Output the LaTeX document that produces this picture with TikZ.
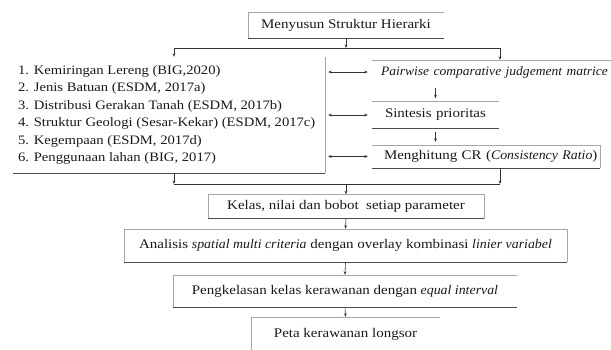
\documentclass[tikz,border=0pt]{standalone}
\usepackage{fontspec}
\setmainfont{Liberation Serif}[FakeStretch=1.135, ItalicFeatures={FakeStretch=1.05}]
\usetikzlibrary{arrows.meta}
\newcommand\myfs{\fontsize{13.2}{17.4}\selectfont}
\newcommand\mylistfs{\fontsize{12.9}{17.4}\selectfont}
\newcommand\mypairfs{\fontsize{12.9}{17.4}\selectfont}
\begin{document}
\begin{tikzpicture}[x=1pt,y=-1pt,
  lbl/.style={inner sep=0pt, font=\myfs, text=black!90},
  lite/.style={draw=black!35, line width=0.6pt},
  dark/.style={draw=black!70, line width=0.8pt},
  ln/.style={draw=black!80, line width=0.9pt},
  arr/.style={draw=black!80, line width=0.6pt, -{Stealth[length=3.5pt,width=2.8pt]}},
  darr/.style={draw=black!80, line width=0.6pt, {Stealth[length=3.5pt,width=2.8pt]}-{Stealth[length=3.5pt,width=2.8pt]}},
]
\useasboundingbox (0,0) rectangle (611,349);

% nodes
\node[lbl, minimum width=196pt, minimum height=26pt] (top) at (346,25) {Menyusun Struktur Hierarki};
\node[lbl, minimum width=312pt, minimum height=116pt] (left) at (169,115) {};
\node[lbl, font=\mylistfs, align=left, anchor=west] (list) at ([xshift=5pt]left.west)
  {1. Kemiringan Lereng (BIG,2020)\\
   2. Jenis Batuan (ESDM, 2017a)\\
   3. Distribusi Gerakan Tanah (ESDM, 2017b)\\
   4. Struktur Geologi (Sesar-Kekar) (ESDM, 2017c)\\
   5. Kegempaan (ESDM, 2017d)\\
   6. Penggunaan lahan (BIG, 2017)};
\node[lbl, minimum width=268pt, minimum height=24pt, text width=250pt, align=left] (pair) at (506,72)
  {\mbox{\mypairfs\itshape Pairwise comparative judgement matrice}};
\node[lbl, minimum width=127pt, minimum height=27pt, text width=101pt, align=left] (sin) at (435.5,115)
  {\mbox{Sintesis prioritas}};
\node[lbl, minimum width=228pt, minimum height=23pt, text width=204pt, align=left] (cr) at (486,156.5)
  {\mbox{Menghitung CR (\textit{Consistency Ratio})}};
\node[lbl, minimum width=276pt, minimum height=24pt] (kelas) at (346,206.5) {Kelas, nilai dan bobot\ \ setiap parameter};
\node[lbl, minimum width=443pt, minimum height=33pt] (anal) at (345.5,245.5)
  {Analisis \textit{spatial multi criteria} dengan overlay kombinasi \textit{linier variabel}};
\node[lbl, minimum width=344pt, minimum height=32pt] (peng) at (345,291)
  {Pengkelasan kelas kerawanan dengan \textit{equal interval}};
\node[lbl, minimum width=189pt, minimum height=34pt] (peta) at (345.5,334) {Peta kerawanan longsor};

% box edges
\draw[lite] (top.south west) |- (top.north east);
\draw[dark] (top.south west) -- (top.south east);
\draw[lite] (left.north east) -- (left.south east);
\draw[dark] (left.south west) -- (left.south east);
\draw[lite] (pair.north west) -- (pair.north east);
\draw[lite] (sin.north west) -- (sin.north east);
\draw[dark] (sin.south west) -- (sin.south east);
\draw[lite] (cr.north west) -- (cr.north east) -- (cr.south east);
\draw[dark] (cr.south west) -- (cr.south east);
\draw[lite] (kelas.south west) |- (kelas.north east) -- (kelas.south east);
\draw[dark] (kelas.south west) -- (kelas.south east);
\draw[lite] (anal.south west) |- (anal.north east) -- (anal.south east);
\draw[dark] (anal.south west) -- (anal.south east);
\draw[lite] (peng.south west) |- (peng.north east);
\draw[dark] (peng.south west) -- (peng.south east);
\draw[lite] (peta.south west) |- (peta.north east);

% junction coordinates
\coordinate (hL) at (174,48);
\coordinate (hC) at (346,48);
\coordinate (hR) at (500,48);
\coordinate (bL) at (174,184);
\coordinate (bC) at (346,184);
\coordinate (bR) at (500,184);

% connectors
\draw[arr] (top.south) -- (hC);
\draw[ln] (hL) -- (hR);
\draw[arr] (hL) -- (hL |- left.north);
\draw[arr] (hR) -- (hR |- pair.north);
\draw[darr, shorten <=3pt, shorten >=4pt] (left.east |- pair.west) -- (pair.west);
\draw[darr, shorten <=3pt, shorten >=4pt] (left.east |- sin.west) -- (sin.west);
\draw[darr, shorten <=3pt, shorten >=4pt] (left.east |- cr.west) -- (cr.west);
\draw[arr, shorten <=4pt, shorten >=3pt] (sin.north |- pair.south) -- (sin.north);
\draw[arr, shorten <=3pt, shorten >=3pt] (sin.south) -- (sin.south |- cr.north);
\draw[arr] (bL |- left.south) -- (bL);
\draw[arr] (bR |- cr.south) -- (bR);
\draw[ln] (bL) -- (bR);
\draw[arr] (bC) -- (kelas.north);
\draw[arr] (kelas.south) -- (anal.north);
\draw[arr] (anal.south) -- (peng.north);
\draw[arr] (peng.south) -- (peta.north);
\end{tikzpicture}
\end{document}
